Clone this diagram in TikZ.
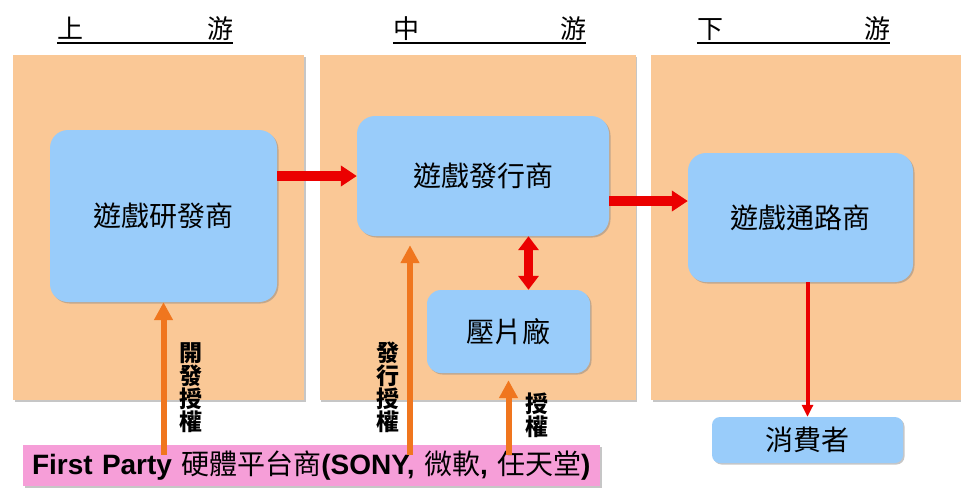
\documentclass[tikz,border=0pt]{standalone}
\usepackage{fontspec}
\setmainfont{Liberation Sans}
\newfontfamily\cjk{Noto Sans CJK TC}
\usepackage{tikz}
\usetikzlibrary{positioning,calc,shadows,arrows.meta}
\definecolor{peach}{RGB}{250,200,150}
\definecolor{skyblue}{RGB}{153,204,250}
\definecolor{pinkbar}{RGB}{246,158,216}
\definecolor{orangearr}{RGB}{240,118,30}
\definecolor{redarr}{RGB}{235,0,0}

\begin{document}
\begin{tikzpicture}[x=1pt, y=-1pt,
    shade/.style={drop shadow={shadow xshift=1.5pt, shadow yshift=-1.5pt, opacity=.45}},
    panel/.style={rectangle, fill=peach, inner sep=0pt, shade},
    firm/.style={rectangle, rounded corners=18pt, fill=skyblue, inner sep=0pt, shade,
        font=\cjk\fontsize{28}{30}\selectfont},
    header/.style={inner sep=0pt, font=\cjk\fontsize{26}{28}\selectfont},
    vlabel/.style={inner sep=0pt, align=center, font=\cjk\bfseries\fontsize{23}{23}\selectfont},
    flow/.style={draw=redarr, line width=10pt, -{Triangle[width=20pt,length=16pt]}},
    license/.style={draw=orangearr, line width=6pt, -{Triangle[width=18pt,length=18pt]}}]

    \useasboundingbox (0,0) rectangle (961,491);

    % stream panels
    \node[panel, minimum width=291pt, minimum height=345pt] (up) at (158.5,227.5) {};
    \node[panel, minimum width=316pt, minimum height=345pt] (mid) at (477.5,227.5) {};
    \node[panel, minimum width=312pt, minimum height=345pt] (down) at (807,227.5) {};

    % headers
    \foreach \cx/\w/\a/\b/\n in {145/176/上/游/hup, 489.5/193/中/游/hmid, 793.5/193/下/游/hdown} {
        \node[header] (\n) at (\cx,29) {\makebox[\w pt]{\a\hfill\b}};
        \draw[line width=2.5pt] ([yshift=-2pt]\n.south west) -- ([yshift=-2pt]\n.south east);
    }

    % firms
    \node[firm, minimum width=227pt, minimum height=172pt] (dev) at (163.5,216) {遊戲研發商};
    \node[firm, minimum width=252pt, minimum height=120pt] (pub) at (483,176) {遊戲發行商};
    \node[firm, rounded corners=14pt, minimum width=163pt, minimum height=83pt] (press) at (508.5,331.5) {壓片廠};
    \node[firm, minimum width=225pt, minimum height=129pt] (dist) at (800.5,217.5) {遊戲通路商};
    \node[firm, rounded corners=8pt, minimum width=191pt, minimum height=46pt] (cons) at (807.5,440) {消費者};

    % platform holders
    \node[rectangle, fill=pinkbar, shade, inner ysep=0pt, inner xsep=9pt, text width=559pt, align=left,
        minimum height=41pt, font=\fontsize{28}{30}\selectfont] (plat) at (311.5,465.5)
        {\textbf{First Party} {\cjk 硬體平台商}\textbf{(SONY,} {\cjk 微軟}\textbf{,} {\cjk 任天堂}\textbf{)}};

    % product flow
    \draw[flow] (dev.east |- pub.west) -- (pub.west);
    \draw[flow] ([yshift=-25pt]pub.east) -- ([yshift=-25pt]pub.east -| dist.west);
    \draw[draw=redarr, line width=9pt, {Triangle[width=20pt,length=14pt]}-{Triangle[width=20pt,length=14pt]}]
        ([xshift=20pt]press.north |- pub.south) -- ([xshift=20pt]press.north);
    \draw[draw=redarr, line width=4pt, -{Triangle[width=11pt,length=12pt]}] (dist.south -| cons.north) -- (cons.north);

    % licences
    \draw[license] ([yshift=-10pt]plat.north -| dev.south) -- (dev.south)
        node[vlabel, pos=.44, right=13pt] (ldev) {開\\發\\授\\權};
    \draw[license, shorten >=9pt] ([yshift=-10pt]plat.north -| 410,0) -- (pub.south -| 410,0)
        node[vlabel, pos=.31, left=8pt] (lpub) {發\\行\\授\\權};
    \draw[license, shorten >=7pt] ([yshift=-10pt]plat.north -| press.south) -- (press.south)
        node[vlabel, pos=.48, right=14pt] (lpress) {授\\權};
\end{tikzpicture}
\end{document}
